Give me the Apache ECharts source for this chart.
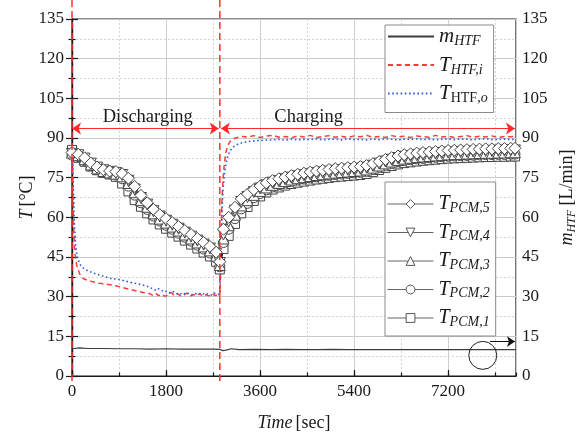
<!DOCTYPE html>
<html>
<head>
<meta charset="utf-8">
<script src="https://cdn.jsdelivr.net/npm/echarts@6/dist/echarts.min.js"></script>
<style>
  html, body { margin: 0; padding: 0; background: #fff; }
  #chart { width: 576px; height: 438px; }
</style>
</head>
<body>
<div id="chart"></div>
<script>
// ---- PCM thermocouple readings (time in s, temperature in °C) ----
const pcmTime = [
  0, 120, 240, 360, 480, 600, 720, 840, 960, 1080, 1200, 1320, 1440, 1560, 1680, 1800,
  1920, 2040, 2160, 2280, 2400, 2520, 2640, 2760, 2830,
  2900, 3000, 3120, 3240, 3360, 3480, 3600, 3720, 3840, 3960, 4080, 4200, 4320, 4440,
  4560, 4680, 4800, 4920, 5040, 5160, 5280, 5400, 5520, 5640, 5760, 5880, 6000, 6120,
  6240, 6360, 6480, 6600, 6720, 6840, 6960, 7080, 7200, 7320, 7440, 7560, 7680, 7800,
  7920, 8040, 8160, 8280, 8400, 8480
];
const pcm5 = [
  84.5, 83.8, 82.5, 80.5, 79, 78, 77.5, 77.3, 76.5, 74.8, 71.7, 68.3, 65.5, 63, 61, 59.5,
  58, 56.5, 55, 53.5, 52, 50.5, 49, 46.8, 43.2,
  55.5, 60, 63.8, 67, 68.8, 70.5, 71.8, 73, 73.9, 74.6, 75.2, 75.8, 76.3, 76.7, 77.1, 77.5,
  77.8, 78.1, 78.4, 78.6, 78.8, 79, 79.2, 79.6, 80.3, 81.1, 81.9, 82.6, 83.2, 83.7, 84,
  84.3, 84.5, 84.7, 84.9, 85.1, 85.3, 85.4, 85.5, 85.6, 85.7, 85.8, 85.9, 85.9, 86, 86, 86.1, 86.1
];
const pcm4 = [
  84, 83.5, 82.2, 80.3, 78.8, 77.8, 77.2, 76.8, 76, 73.8, 70.5, 67.3, 64.8, 62.3, 60.3, 58.7,
  57.2, 55.7, 54.2, 52.7, 51.2, 49.7, 48.2, 46.2, 42.7,
  53.5, 58.5, 62.5, 65.8, 67.7, 69.5, 70.9, 72.1, 73.1, 73.7, 74.4, 75, 75.5, 75.9, 76.3, 76.7,
  77, 77.3, 77.6, 77.8, 78, 78.2, 78.4, 78.8, 79.5, 80.3, 81.1, 81.8, 82.4, 82.9, 83.2,
  83.5, 83.7, 83.9, 84.1, 84.3, 84.5, 84.6, 84.7, 84.8, 84.9, 85, 85.1, 85.1, 85.2, 85.2, 85.3, 85.3
];
const pcm3 = [
  84.5, 83.5, 82, 80, 78.5, 77.5, 77, 76.5, 75.5, 73, 69.5, 66.5, 64, 61.5, 59.5, 58,
  56.5, 55, 53.5, 52, 50.5, 49, 47.5, 45.5, 42,
  52, 57, 61, 64.5, 66.5, 68.5, 70, 71.3, 72.3, 73, 73.7, 74.3, 74.8, 75.2, 75.6, 76,
  76.3, 76.6, 76.9, 77.1, 77.3, 77.5, 77.7, 78.1, 78.8, 79.6, 80.4, 81.1, 81.7, 82.2, 82.5,
  82.8, 83, 83.2, 83.4, 83.6, 83.8, 83.9, 84, 84.1, 84.2, 84.3, 84.4, 84.4, 84.5, 84.5, 84.6, 84.6
];
const pcm2 = [
  83.5, 83, 81.5, 79.6, 78.2, 77.2, 76.6, 76, 74.6, 71.8, 68.4, 65.5, 63, 60.5, 58.6, 57,
  55.5, 54, 52.5, 51, 49.5, 48, 46.5, 44.6, 41.3,
  50.5, 55.5, 59.5, 63.2, 65.3, 67.4, 69, 70.4, 71.5, 72.3, 73, 73.6, 74.1, 74.5, 74.9, 75.3,
  75.6, 75.9, 76.2, 76.4, 76.6, 76.8, 77, 77.4, 78.1, 78.9, 79.7, 80.4, 81, 81.5, 81.8,
  82.1, 82.3, 82.5, 82.7, 82.9, 83.1, 83.2, 83.3, 83.4, 83.5, 83.6, 83.7, 83.7, 83.8, 83.8, 83.9, 83.9
];
const pcm1 = [
  85.5, 82.5, 81, 79.2, 77.8, 76.8, 76.2, 75.3, 72.8, 69.8, 66.5, 64, 61.5, 59.2, 57.3, 55.7,
  54.2, 52.7, 51.2, 49.7, 48.2, 46.7, 45.2, 43.2, 40.3,
  48, 53, 57.5, 61.5, 63.9, 66.2, 67.9, 69.4, 70.5, 71.3, 72, 72.6, 73.1, 73.5, 73.9, 74.3,
  74.6, 74.9, 75.2, 75.4, 75.6, 75.8, 76, 76.4, 77.1, 77.9, 78.7, 79.4, 80, 80.5, 80.8,
  81.1, 81.4, 81.6, 81.8, 82, 82.2, 82.3, 82.4, 82.5, 82.6, 82.7, 82.8, 82.8, 82.9, 82.9, 83, 83
];

// ---- HTF inlet temperature ----
const inletTime = [
  0, 10, 25, 45, 70, 100, 150, 220, 300, 400, 520, 640, 760, 880, 1000, 1120, 1240, 1360,
  1480, 1540, 1600, 1660, 1720, 1780, 1840, 1900, 1960, 2020, 2080, 2140, 2200, 2260, 2320,
  2380, 2440, 2500, 2560, 2620, 2680, 2740, 2800, 2830,
  2840, 2855, 2870, 2890, 2915, 2945, 2980, 3020, 3070, 3130, 3200, 3280,
  3360, 3480, 3600, 3720, 3840, 3960, 4080, 4200, 4320, 4440, 4560, 4680, 4800, 4920, 5040,
  5160, 5280, 5400, 5520, 5640, 5760, 5880, 6000, 6120, 6240, 6360, 6480, 6600, 6720, 6840,
  6960, 7080, 7200, 7320, 7440, 7560, 7680, 7800, 7920, 8040, 8160, 8280, 8400, 8500
];
const inletTemp = [
  88, 78, 60, 49, 44, 41, 38.5, 36.8, 36.2, 35.6, 35.1, 34.8, 34.4, 33.9, 33.3, 32.7, 32.1, 31.6,
  31.2, 30.6, 31.3, 30.4, 30.9, 30.1, 30.7, 31.6, 30.4, 31.2, 30.2, 30.6, 31.4, 30.2, 30.8,
  30.3, 31.1, 30.2, 30.7, 30.3, 31.2, 30.4, 30.8, 30,
  36, 52, 66, 74, 80, 84.5, 87, 88.5, 89.5, 90, 90.4, 90.6,
  90.3, 90.9, 90.2, 90.7, 91, 90.3, 90.6, 90.1, 90.8, 90.4, 91, 90.2, 90.6, 90.9, 90.3,
  90.7, 90.2, 90.8, 90.5, 91, 90.3, 90.6, 90.2, 90.9, 90.4, 90.7, 90.2, 90.8, 90.5, 90.3,
  91, 90.4, 90.7, 90.2, 90.6, 90.9, 90.3, 90.7, 90.4, 90.8, 90.2, 90.6, 90.5, 90.7
];

// ---- HTF outlet temperature ----
const outletTime = [
  0, 10, 25, 45, 70, 100, 150, 220, 300, 400, 520, 640, 760, 880, 1000, 1120, 1240, 1360,
  1480, 1560, 1620, 1660, 1700, 1760, 1820, 1880, 1940, 2000, 2060, 2120, 2180, 2240, 2300,
  2360, 2420, 2480, 2540, 2600, 2660, 2720, 2780, 2830,
  2840, 2855, 2870, 2890, 2915, 2945, 2980, 3020, 3070, 3130, 3200, 3300, 3420, 3550, 3700,
  3840, 3960, 4080, 4200, 4320, 4440, 4560, 4680, 4800, 4920, 5040, 5160, 5280, 5400, 5520,
  5640, 5760, 5880, 6000, 6120, 6240, 6360, 6480, 6600, 6720, 6840, 6960, 7080, 7200, 7320,
  7440, 7560, 7680, 7800, 7920, 8040, 8160, 8280, 8400, 8500
];
const outletTemp = [
  88, 85, 72, 58, 49, 45.3, 42.2, 40.8, 39.8, 39, 38.2, 37.5, 36.8, 36.6, 36, 35.4, 34.9, 34.4,
  33.6, 32.8, 32.3, 33, 32.6, 31.8, 32.1, 31.3, 31.9, 31.2, 30.8, 31.5, 30.8, 31.3, 30.7,
  31.2, 30.9, 31.5, 30.7, 31.1, 30.6, 31.4, 30.8, 31,
  38, 50, 62, 70, 76, 80, 83, 85, 86.3, 87.2, 87.9, 88.4, 88.8, 89, 89.2,
  89.3, 89.5, 89.2, 89.6, 89.3, 89.5, 89.4, 89.7, 89.3, 89.5, 89.6, 89.3, 89.7, 89.4, 89.5,
  89.3, 89.6, 89.4, 89.7, 89.5, 89.3, 89.6, 89.5, 89.7, 89.4, 89.6, 89.3, 89.5, 89.7, 89.4,
  89.6, 89.5, 89.3, 89.6, 89.7, 89.4, 89.5, 89.6, 89.4, 89.6
];

// ---- HTF volumetric flow rate (L/min) ----
const flowTime = [
  0, 150, 300, 600, 900, 1200, 1500, 1800, 2100, 2400, 2700, 2830, 2880, 2950, 3050, 3200,
  3500, 3800, 4100, 4400, 4700, 5000, 5300, 5600, 5900, 6200, 6500, 6800, 7100, 7400,
  7700, 8000, 8300, 8500
];
const flowRate = [
  10.3, 10.6, 10.4, 10.4, 10.3, 10.3, 10.2, 10.3, 10.2, 10.2, 10.2, 10.1, 9.6, 9.8, 10.3, 10.0,
  10.1, 10.0, 10.1, 10.0, 10.0, 10.1, 10.0, 10.0, 10.0, 10.0, 10.0, 10.0, 10.0, 10.0,
  10.0, 10.0, 10.0, 10.0
];

// ---- Phase annotations ----
const phaseTimes = [0, 2830];               // start of discharging / charging
const phaseNames = ['Discharging', 'Charging'];
const phaseLabelTime = [1450, 4530];
const phaseLabelLevel = 98;
const phaseArrowLevel = 93.6;
const phaseArrowSpans = [[0, 2810], [2850, 8480]];
const flowMarker = [7864, 7.8];              // circle around the flow-rate trace
const flowArrow = [[8000, 13], [8480, 13]];  // pointer to the right-hand axis

const axisMin = 0, axisMaxT = 135, tStep = 15;
const timeMax = 8500, timeStep = 1800;

const SERIF = '"Liberation Serif", "Times New Roman", serif';
const INK = '#1a1a1a';

const zip = (xs, ys) => xs.map((x, i) => [x, ys[i]]);

function richSet(main, sub, mainLH) {
  return {
    i: { fontFamily: SERIF, fontStyle: 'italic', fontSize: main, lineHeight: mainLH, verticalAlign: 'middle', color: INK },
    n: { fontFamily: SERIF, fontSize: main, lineHeight: mainLH, verticalAlign: 'middle', color: INK },
    s: { fontFamily: SERIF, fontStyle: 'italic', fontSize: sub, lineHeight: 6, verticalAlign: 'bottom', color: INK },
    u: { fontFamily: SERIF, fontSize: sub, lineHeight: 6, verticalAlign: 'bottom', color: INK }
  };
}

const legendLabels = {
  mHTF: '{i|m}{s|HTF}',
  THTFi: '{i|T}{s|HTF,i}',
  THTFo: '{i|T}{u|HTF}{s|,o}',
  TPCM5: '{i|T}{s|PCM,5}',
  TPCM4: '{i|T}{s|PCM,4}',
  TPCM3: '{i|T}{s|PCM,3}',
  TPCM2: '{i|T}{s|PCM,2}',
  TPCM1: '{i|T}{s|PCM,1}'
};

const tickLabel = { fontFamily: SERIF, fontSize: 17, color: INK };
const plainNumber = v => String(v);
const axisLineStyle = { color: INK, width: 1.2 };
const markerStyle = { color: '#fff', borderColor: '#444', borderWidth: 1 };

function pcmSeries(name, values, symbol, size) {
  return {
    name, type: 'line', xAxisIndex: 0, yAxisIndex: 0,
    data: zip(pcmTime, values),
    symbol, symbolSize: size, showSymbol: true, showAllSymbol: true,
    lineStyle: { color: '#222', width: 1 },
    itemStyle: markerStyle,
    z: 5
  };
}

const option = {
  animation: false,
  backgroundColor: '#fff',
  textStyle: { fontFamily: SERIF },
  grid: {
    left: 72, right: 60, top: 19, bottom: 62,
    show: true, borderColor: INK, borderWidth: 1.2, backgroundColor: 'transparent',
    containLabel: false, outerBoundsMode: 'none'
  },
  legend: [
    {
      orient: 'vertical', left: 385, top: 25,
      padding: [1, 6, 7, 2], itemGap: 6, itemWidth: 46, itemHeight: 12,
      backgroundColor: '#fff', borderColor: '#8a8a8a', borderWidth: 1,
      data: ['mHTF', 'THTFi', 'THTFo'],
      itemStyle: { opacity: 0 },
      formatter: n => legendLabels[n],
      textStyle: { rich: richSet(21, 14, 24) },
      selectedMode: false
    },
    {
      orient: 'vertical', left: 385, top: 182,
      padding: [12, 6, 7, 2], itemGap: 7.5, itemWidth: 46, itemHeight: 11,
      backgroundColor: '#fff', borderColor: '#8a8a8a', borderWidth: 1,
      data: ['TPCM5', 'TPCM4', 'TPCM3', 'TPCM2', 'TPCM1'],
      lineStyle: { color: '#666', width: 1 },
      itemStyle: { color: '#fff', borderColor: '#555', borderWidth: 1 },
      formatter: n => legendLabels[n],
      textStyle: { rich: richSet(20, 14, 22) },
      selectedMode: false
    }
  ],
  xAxis: [
    {
      type: 'value', position: 'bottom', min: axisMin, max: timeMax, interval: timeStep,
      axisLine: { show: true, lineStyle: axisLineStyle },
      axisTick: { show: true, inside: true, length: 6, lineStyle: axisLineStyle },
      axisLabel: { ...tickLabel, margin: 7, showMaxLabel: false, formatter: plainNumber },
      splitLine: { show: true, lineStyle: { color: '#c9c9c9', width: 1 } },
      name: '{i|Time} {n|[sec]}', nameLocation: 'middle', nameGap: 36, nameMoveOverlap: false,
      nameTextStyle: { rich: richSet(18, 12, 22) }
    },
    {
      type: 'value', position: 'bottom', min: axisMin, max: timeMax, interval: timeStep / 2,
      axisLine: { show: false },
      axisTick: { show: true, inside: true, length: 3.5, lineStyle: axisLineStyle },
      axisLabel: { show: false },
      splitLine: { show: true, lineStyle: { color: '#d4d4d4', width: 1, type: [2, 2] } }
    }
  ],
  yAxis: [
    {
      type: 'value', position: 'left', min: axisMin, max: axisMaxT, interval: tStep,
      axisLine: { show: true, lineStyle: axisLineStyle },
      axisTick: { show: true, inside: true, length: 6, lineStyle: axisLineStyle },
      minorTick: { show: true, splitNumber: 2, length: 3.5, lineStyle: axisLineStyle },
      axisLabel: { ...tickLabel, margin: 8, formatter: plainNumber },
      splitLine: { show: true, lineStyle: { color: '#c9c9c9', width: 1 } },
      minorSplitLine: { show: true, lineStyle: { color: '#d4d4d4', width: 1, type: [2, 2] } },
      name: '{i|T} {n|[°C]}', nameLocation: 'middle', nameGap: 34, nameRotate: 90, nameMoveOverlap: false,
      nameTextStyle: { rich: richSet(18, 12, 22) }
    },
    {
      type: 'value', position: 'right', min: axisMin, max: axisMaxT, interval: tStep,
      axisLine: { show: true, lineStyle: axisLineStyle },
      axisTick: { show: true, inside: true, length: 6, lineStyle: axisLineStyle },
      minorTick: { show: true, splitNumber: 2, length: 3.5, lineStyle: axisLineStyle },
      axisLabel: { ...tickLabel, margin: 6, formatter: plainNumber },
      splitLine: { show: false },
      name: '{i|m}{s|HTF}{n| [L/min]}', nameLocation: 'middle', nameGap: 40, nameRotate: 90, nameMoveOverlap: false,
      nameTextStyle: { rich: richSet(18, 12, 22) }
    }
  ],
  series: [
    {
      name: 'mHTF', type: 'line', xAxisIndex: 0, yAxisIndex: 1,
      data: zip(flowTime, flowRate), symbol: 'none',
      lineStyle: { color: '#3c3c3c', width: 1.2 }, itemStyle: { color: '#3c3c3c' },
      markPoint: {
        silent: true, animation: false,
        symbol: 'circle', symbolSize: 28,
        itemStyle: { color: 'rgba(0,0,0,0)', borderColor: '#222', borderWidth: 1 },
        label: { show: false },
        data: [{ coord: flowMarker }]
      },
      markLine: {
        silent: true, animation: false,
        symbol: ['none', 'arrow'], symbolSize: 8,
        lineStyle: { color: '#111', width: 1, type: 'solid' },
        label: { show: false },
        data: [[{ coord: flowArrow[0] }, { coord: flowArrow[1] }]]
      }
    },
    {
      name: 'THTFi', type: 'line', xAxisIndex: 0, yAxisIndex: 0,
      data: zip(inletTime, inletTemp), symbol: 'none',
      lineStyle: { color: '#ff3b3b', width: 1.5, type: [5, 3.5] }, itemStyle: { color: '#ff3b3b' },
      markLine: {
        silent: true, animation: false,
        symbol: ['arrow', 'arrow'], symbolSize: 9,
        lineStyle: { color: '#ff2a2a', width: 1.2, type: 'solid' },
        label: { show: false },
        data: phaseArrowSpans.map(s => [{ coord: [s[0], phaseArrowLevel] }, { coord: [s[1], phaseArrowLevel] }])
      },
      markPoint: {
        silent: true, animation: false,
        symbol: 'circle', symbolSize: 0,
        label: { show: true, position: 'inside', formatter: '{b}', fontFamily: SERIF, fontSize: 18.5, color: INK },
        data: phaseNames.map((n, i) => ({ name: n, coord: [phaseLabelTime[i], phaseLabelLevel] }))
      }
    },
    {
      name: 'THTFo', type: 'line', xAxisIndex: 0, yAxisIndex: 0,
      data: zip(outletTime, outletTemp), symbol: 'none',
      lineStyle: { color: '#2f5fd6', width: 1.6, type: [1.6, 2.6] }, itemStyle: { color: '#2f5fd6' }
    },
    pcmSeries('TPCM1', pcm1, 'rect', 9),
    pcmSeries('TPCM2', pcm2, 'circle', 10),
    pcmSeries('TPCM3', pcm3, 'triangle', 11),
    pcmSeries('TPCM4', pcm4, 'path://M0,0 L10,0 L5,9 Z', 11),
    pcmSeries('TPCM5', pcm5, 'diamond', 12)
  ]
};

const chart = echarts.init(document.getElementById('chart'), null, { renderer: 'canvas' });
chart.setOption(option);

// Phase boundary lines run past the plot frame, so they are drawn as graphics
// at the pixel positions reported by the axes.
const boundaryLines = phaseTimes.map(t => {
  const p = chart.convertToPixel({ xAxisIndex: 0, yAxisIndex: 0 }, [t, axisMin]);
  return {
    type: 'line', silent: true, z: 100,
    shape: { x1: p[0], y1: 0, x2: p[0], y2: p[1] + 7 },
    style: { stroke: '#ff3030', lineWidth: 1.5, lineDash: [7, 4] }
  };
});
chart.setOption({ graphic: boundaryLines });
</script>
</body>
</html>
